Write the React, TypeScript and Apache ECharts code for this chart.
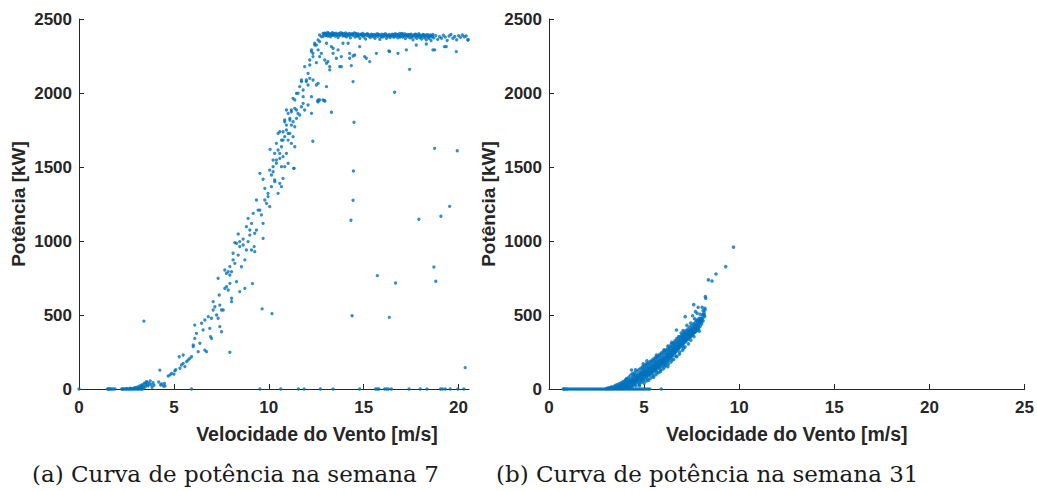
import React, { useEffect, useRef } from "react";
import * as echarts from "echarts";

// ---- Semana 7: potência [kW] vs. velocidade do vento [m/s] ----
const zeros7: [number, number][] = [
  [0, 0], [1.5, 0], [1.55, 0], [1.6, 0], [1.65, 0], [1.72, 0], [1.8, 0], [1.9, 0], [2.25, 0], [2.3, 0],
  [2.35, 0], [2.42, 0], [2.5, 0], [2.58, 0], [2.65, 0], [2.72, 0], [2.8, 0], [2.88, 0], [2.95, 0], [3.05, 0],
  [3.12, 0], [3.2, 0], [3.28, 0], [3.35, 0], [5.93, 0], [9.53, 0], [10.63, 0], [11.56, 0], [11.86, 0],
  [12.72, 0], [13.39, 0], [14.79, 0], [15.63, 0], [15.72, 0], [15.8, 0], [16.1, 0], [16.2, 0], [16.3, 0],
  [16.46, 0], [17.39, 0], [17.98, 0], [18.33, 0], [19.05, 0], [19.15, 0], [19.3, 0], [19.56, 0], [19.96, 0],
  [20.28, 0],
];

const partida7: [number, number][] = [
  [2.5, 3], [2.7, 5], [2.8, 2], [2.9, 8], [3.0, 4], [3.0, 10], [3.1, 14], [3.15, 6], [3.2, 20], [3.25, 12],
  [3.3, 25], [3.3, 8], [3.35, 30], [3.4, 18], [3.4, 5], [3.45, 40], [3.5, 35], [3.5, 15], [3.55, 50],
  [3.6, 28], [3.6, 45], [3.65, 22], [3.7, 38], [3.75, 55], [3.8, 30], [3.85, 12], [3.9, 42], [3.95, 25],
  [4.2, 47], [4.3, 27], [4.35, 35], [4.45, 20], [4.5, 38], [4.53, 20], [4.26, 128],
];

const rampa7: [number, number][] = [
  [4.7, 88], [4.8, 95], [4.88, 106], [5.0, 100], [5.05, 122], [5.1, 130], [5.28, 218], [5.32, 140],
  [5.4, 162], [5.49, 173], [5.49, 230], [5.58, 151], [5.67, 185], [5.75, 196], [5.84, 207], [5.93, 218],
  [6.02, 286], [6.02, 297], [6.1, 342], [6.1, 432], [6.19, 376], [6.28, 252], [6.37, 309], [6.46, 444],
  [6.54, 399], [6.63, 263], [6.63, 466], [6.72, 252], [6.81, 489], [6.89, 410], [6.93, 354], [6.98, 342],
  [6.98, 478], [7.07, 534], [7.07, 590], [7.16, 556], [7.25, 500], [7.33, 478], [7.33, 748], [7.39, 635],
  [7.42, 421], [7.42, 567], [7.51, 387], [7.51, 534], [7.6, 534], [7.68, 680], [7.68, 804], [7.77, 691],
  [7.77, 781], [7.86, 793], [7.86, 669], [7.95, 770], [7.95, 714], [7.95, 827], [8.04, 613], [8.04, 590],
  [8.04, 793], [8.12, 917], [8.12, 872], [8.21, 849], [8.21, 989], [8.3, 725], [8.3, 984], [8.39, 905],
  [8.39, 1047], [8.47, 658], [8.47, 996], [8.47, 962], [8.56, 826], [8.65, 973], [8.65, 1013], [8.74, 680],
  [8.74, 872], [8.82, 939], [8.82, 1097], [8.91, 996], [8.91, 1153], [9.0, 1040], [9.0, 1074], [9.09, 939],
  [9.09, 1119], [9.14, 712], [9.18, 1187], [9.23, 962], [9.26, 928], [9.26, 1052], [9.35, 1277], [9.35, 1074],
  [9.44, 1209], [9.53, 1457], [9.53, 1209], [9.61, 1176], [9.7, 1119], [9.7, 1417], [9.7, 1018], [9.79, 1356],
  [9.79, 1277], [9.88, 1254], [9.96, 1300], [9.96, 1322], [10.05, 1232], [10.05, 1479], [10.07, 1619],
  [10.14, 1367], [10.14, 1446], [10.23, 1468], [10.23, 1547], [10.23, 1502], [10.31, 1412], [10.31, 1592],
  [10.32, 1401], [10.4, 1525], [10.4, 1660], [10.4, 1547], [10.49, 1322], [10.49, 1615], [10.49, 1727],
  [10.58, 1389], [10.58, 1558], [10.58, 1738], [10.58, 1592], [10.67, 1367], [10.67, 1637], [10.67, 1682],
  [10.67, 1502], [10.75, 1423], [10.75, 1570], [10.75, 1738], [10.75, 1682], [10.84, 1502], [10.84, 1705],
  [10.84, 1806], [10.84, 1818], [10.93, 1592], [10.93, 1750], [10.93, 1783], [10.93, 1885], [11.02, 1525],
  [11.02, 1682], [11.02, 1862], [11.02, 1727], [11.11, 1727], [11.11, 1817], [11.11, 1829], [11.19, 1660],
  [11.19, 1783], [11.19, 1873], [11.19, 1885], [11.28, 1705], [11.28, 1806], [11.28, 1964], [11.32, 1491],
  [11.37, 1637], [11.37, 1772], [11.37, 1896], [11.37, 1953], [11.46, 1829], [11.46, 1885], [11.46, 1997],
  [11.54, 1862], [11.54, 1998], [11.63, 1851], [11.63, 2043], [11.72, 1907], [11.72, 2077], [11.72, 2088],
  [11.81, 1930], [11.81, 1975], [11.81, 2020], [11.89, 1885], [11.89, 2178], [11.98, 2077], [11.98, 2088],
  [12.07, 1919], [12.07, 2054], [12.07, 2133], [12.16, 2099], [12.16, 2189], [12.16, 2223], [12.25, 1862],
  [12.25, 1975], [12.25, 2280], [12.25, 2291], [12.33, 2088], [12.33, 2246], [12.33, 2268], [12.42, 2324],
  [12.42, 2336], [12.51, 2054], [12.51, 2205], [12.51, 2324], [12.6, 1941], [12.6, 1953], [12.6, 2065],
  [12.6, 2291], [12.6, 2358], [12.68, 1953], [12.68, 2246], [12.68, 2347], [12.68, 2392], [12.77, 2268],
  [12.77, 2381], [12.86, 1953], [12.86, 2381], [12.86, 2403], [12.95, 1946], [12.95, 2223], [12.95, 2403],
  [13.04, 2043], [13.04, 2201], [13.04, 2336], [13.04, 2392], [13.12, 2212], [13.21, 2156], [13.21, 2178],
];

const patamar7: [number, number][] = [
  [12.9, 2395], [12.95, 2405], [13.0, 2388], [13.02, 2392], [13.05, 2400], [13.1, 2410], [13.12, 2385],
  [13.15, 2392], [13.2, 2402], [13.22, 2398], [13.25, 2380], [13.3, 2398], [13.32, 2390], [13.35, 2408],
  [13.4, 2390], [13.42, 2403], [13.45, 2400], [13.5, 2385], [13.55, 2405], [13.58, 2390], [13.6, 2395],
  [13.65, 2375], [13.7, 2402], [13.72, 2394], [13.75, 2390], [13.8, 2408], [13.85, 2396], [13.88, 2402],
  [13.9, 2385], [13.95, 2400], [14.0, 2392], [14.02, 2385], [14.05, 2406], [14.1, 2380], [14.12, 2396],
  [14.15, 2398], [14.2, 2390], [14.25, 2403], [14.28, 2390], [14.3, 2372], [14.35, 2395], [14.4, 2400],
  [14.42, 2396], [14.45, 2388], [14.5, 2406], [14.55, 2378], [14.58, 2402], [14.6, 2395], [14.65, 2385],
  [14.7, 2400], [14.72, 2385], [14.75, 2392], [14.8, 2370], [14.85, 2398], [14.88, 2394], [14.9, 2388],
  [14.95, 2402], [15.0, 2380], [15.02, 2390], [15.05, 2395], [15.1, 2365], [15.15, 2390], [15.18, 2398],
  [15.2, 2400], [15.25, 2385], [15.3, 2393], [15.32, 2384], [15.35, 2375], [15.4, 2398], [15.45, 2388],
  [15.48, 2394], [15.5, 2380], [15.55, 2395], [15.6, 2370], [15.62, 2386], [15.65, 2390], [15.7, 2400],
  [15.75, 2382], [15.78, 2398], [15.8, 2392], [15.85, 2362], [15.9, 2388], [15.92, 2380], [15.95, 2398],
  [16.0, 2378], [16.05, 2392], [16.08, 2396], [16.1, 2385], [16.15, 2400], [16.2, 2370], [16.22, 2388],
  [16.25, 2390], [16.3, 2382], [16.35, 2396], [16.38, 2386], [16.4, 2375], [16.45, 2388], [16.5, 2398],
  [16.52, 2392], [16.55, 2380], [16.6, 2392], [16.62, 2378], [16.65, 2400], [16.7, 2385], [16.72, 2396],
  [16.75, 2395], [16.8, 2372], [16.82, 2388], [16.85, 2390], [16.9, 2402], [16.92, 2378], [16.95, 2385],
  [17.0, 2395], [17.02, 2402], [17.05, 2378], [17.1, 2390], [17.12, 2384], [17.15, 2400], [17.2, 2368],
  [17.22, 2392], [17.25, 2388], [17.3, 2396], [17.32, 2386], [17.35, 2380], [17.4, 2392], [17.42, 2396],
  [17.45, 2372], [17.5, 2398], [17.52, 2378], [17.55, 2385], [17.6, 2360], [17.62, 2388], [17.65, 2392],
  [17.7, 2380], [17.72, 2398], [17.75, 2395], [17.8, 2370], [17.82, 2384], [17.85, 2388], [17.9, 2400],
  [17.92, 2392], [17.95, 2375], [18.0, 2390], [18.02, 2380], [18.05, 2365], [18.1, 2385], [18.12, 2392],
  [18.15, 2395], [18.2, 2372], [18.22, 2384], [18.25, 2388], [18.3, 2360], [18.32, 2394], [18.35, 2380],
  [18.4, 2392], [18.42, 2378], [18.45, 2370], [18.5, 2385], [18.52, 2392], [18.55, 2355], [18.6, 2380],
  [18.62, 2384], [18.65, 2395], [18.7, 2372], [18.8, 2388], [18.9, 2362], [19.0, 2380], [19.1, 2370],
  [19.2, 2390], [19.3, 2378], [19.4, 2355], [19.5, 2385], [19.6, 2395], [19.7, 2370], [19.8, 2382],
  [19.9, 2360], [20.0, 2388], [20.1, 2376], [20.2, 2392], [20.3, 2380], [20.4, 2385], [20.5, 2360],
];

const abaixoPatamar7: [number, number][] = [
  [13.3, 2313], [13.39, 2268], [13.39, 2302], [13.56, 2235], [13.65, 2291], [13.74, 2178], [13.82, 2178],
  [13.82, 2246], [13.91, 2336], [14.18, 2336], [14.26, 2235], [14.26, 2268], [14.35, 2185], [14.44, 2250],
  [14.44, 2077], [14.53, 2257], [14.79, 2313], [15.05, 2246], [15.14, 2235], [15.32, 2212], [15.67, 2268],
  [16.33, 2284], [16.37, 2280], [16.81, 2268], [17.25, 2291], [17.42, 2160], [17.77, 2324], [18.3, 2331],
  [18.65, 2291], [18.74, 2291], [19.26, 2313], [19.35, 2313], [19.88, 2280], [20.49, 2358],
];

const dispersos7: [number, number][] = [
  [3.42, 459], [7.95, 248], [9.65, 541], [10.17, 509], [12.32, 1674], [11.33, 1491], [13.3, 1870],
  [12.93, 1948], [12.58, 1944], [16.63, 2005], [14.49, 1802], [14.46, 1473], [14.44, 1275], [14.33, 1140],
  [14.39, 495], [15.72, 766], [16.35, 484], [16.68, 716], [17.91, 1147], [18.7, 824], [18.8, 728],
  [18.74, 1626], [19.07, 1167], [19.53, 1234], [19.93, 1610], [20.35, 144],
];

// ---- Semana 31 ----
const zeros31: [number, number][] = [
  [0.75, 0], [0.8, 0], [0.85, 0], [0.93, 0], [1.0, 0], [1.1, 0], [1.2, 0], [1.3, 0], [1.4, 0], [1.5, 0],
  [1.6, 0], [1.7, 0], [1.8, 0], [1.9, 0], [2.0, 0], [2.1, 0], [2.2, 0], [2.3, 0], [2.4, 0], [2.5, 0],
  [2.6, 0], [2.7, 0], [2.8, 0], [2.9, 0], [3.0, 0], [3.1, 0], [3.2, 0], [3.3, 0], [3.4, 0], [3.5, 0],
  [3.6, 0], [3.7, 0], [3.8, 0], [3.9, 0], [4.0, 0], [4.1, 0], [4.2, 0], [4.3, 0], [4.4, 0], [4.5, 0],
  [4.6, 0], [4.7, 0], [4.8, 0], [4.9, 0], [5.0, 0], [5.1, 0], [5.2, 0], [5.3, 0], [5.9, 0],
];

const nuvem31: [number, number][] = [
  [3.0, 2], [3.05, 5], [3.1, 3], [3.15, 8], [3.2, 4], [3.25, 10], [3.3, 6], [3.3, 14], [3.35, 3], [3.4, 9],
  [3.45, 18], [3.5, 6], [3.5, 25], [3.55, 12], [3.6, 30], [3.6, 8], [3.65, 20], [3.7, 15], [3.7, 35],
  [3.75, 4], [3.75, 26], [3.8, 18], [3.8, 42], [3.85, 30], [3.85, 10], [3.9, 22], [3.9, 50], [3.95, 36],
  [3.95, 14], [4.0, 28], [4.0, 55], [4.02, 8], [4.05, 40], [4.08, 70], [4.1, 20], [4.1, 48], [4.12, 33],
  [4.15, 62], [4.18, 15], [4.2, 42], [4.2, 80], [4.22, 55], [4.25, 30], [4.28, 68], [4.3, 48], [4.3, 95],
  [4.32, 20], [4.34, 128], [4.35, 58], [4.38, 78], [4.4, 40], [4.4, 105], [4.42, 65], [4.45, 28], [4.45, 88],
  [4.48, 52], [4.5, 72], [4.5, 110], [4.52, 35], [4.55, 60], [4.55, 95], [4.6, 48], [4.6, 82], [4.62, 120],
  [4.65, 68], [4.68, 100], [4.7, 40], [4.7, 88], [4.72, 130], [4.75, 75], [4.78, 108], [4.8, 55], [4.8, 95],
  [4.82, 140], [4.85, 82], [4.88, 118], [4.9, 65], [4.9, 102], [4.92, 150], [4.95, 90], [4.98, 125],
  [5.0, 72], [5.0, 110], [5.02, 160], [5.05, 98], [5.08, 135], [5.1, 80], [5.1, 118], [5.12, 170],
  [5.15, 105], [5.18, 142], [5.2, 88], [5.2, 125], [5.22, 175], [5.25, 112], [5.28, 150], [5.3, 95],
  [5.3, 135], [5.32, 185], [5.35, 120], [5.38, 158], [5.4, 105], [5.4, 145], [5.42, 195], [5.45, 130],
  [5.48, 168], [5.5, 115], [5.5, 152], [5.52, 205], [5.55, 138], [5.58, 178], [5.6, 125], [5.6, 162],
  [5.62, 215], [5.65, 148], [5.68, 188], [5.7, 135], [5.7, 170], [5.72, 225], [5.75, 158], [5.78, 198],
  [5.8, 142], [5.8, 180], [5.82, 235], [5.85, 165], [5.88, 205], [5.9, 150], [5.9, 190], [5.92, 245],
  [5.95, 175], [5.98, 215], [6.0, 160], [6.0, 198], [6.02, 255], [6.05, 185], [6.08, 225], [6.1, 170],
  [6.1, 208], [6.12, 262], [6.15, 195], [6.18, 235], [6.2, 180], [6.2, 218], [6.22, 270], [6.25, 205],
  [6.28, 248], [6.3, 195], [6.3, 230], [6.32, 285], [6.35, 220], [6.38, 262], [6.4, 210], [6.4, 245],
  [6.42, 300], [6.45, 235], [6.48, 275], [6.5, 225], [6.5, 258], [6.52, 310], [6.55, 250], [6.58, 290],
  [6.6, 240], [6.6, 272], [6.62, 325], [6.65, 265], [6.68, 302], [6.7, 255], [6.7, 288], [6.7, 399],
  [6.72, 340], [6.75, 278], [6.78, 315], [6.8, 270], [6.8, 300], [6.82, 355], [6.85, 292], [6.88, 330],
  [6.9, 285], [6.9, 315], [6.95, 345], [6.98, 300], [7.0, 325], [7.0, 370], [7.02, 290], [7.05, 340],
  [7.08, 310], [7.1, 355], [7.1, 385], [7.12, 325], [7.15, 368], [7.16, 489], [7.18, 340], [7.2, 395],
  [7.22, 355], [7.25, 378], [7.28, 335], [7.3, 405], [7.32, 365], [7.35, 390], [7.38, 350], [7.4, 418],
  [7.42, 372], [7.45, 400], [7.48, 360], [7.5, 425], [7.52, 385], [7.55, 410], [7.58, 375], [7.6, 440],
  [7.61, 570], [7.62, 395], [7.65, 420], [7.68, 385], [7.7, 450], [7.7, 523], [7.72, 405], [7.75, 430],
  [7.75, 466], [7.78, 398], [7.79, 512], [7.8, 460], [7.84, 552], [7.85, 415], [7.88, 440], [7.89, 478],
  [7.9, 470], [7.95, 425], [8.0, 480], [8.01, 455], [8.02, 440], [8.05, 552], [8.08, 500], [8.1, 460],
  [8.15, 515], [8.18, 490], [8.2, 534], [8.2, 545], [8.22, 624], [8.24, 613], [8.38, 737], [8.57, 730],
  [8.78, 777], [9.29, 827], [9.7, 959],
];

// extra readings filling the dense part of the week-31 cloud
const nuvemDensa31: [number, number][] = [
  [3.58, 3], [3.68, 11], [3.78, 7], [3.88, 38], [3.92, 4], [3.98, 20], [4.03, 62], [4.07, 12], [4.13, 26],
  [4.17, 45], [4.23, 9], [4.27, 52], [4.33, 36], [4.37, 16], [4.43, 50], [4.47, 96], [4.53, 47], [4.57, 22],
  [4.63, 58], [4.67, 84], [4.73, 62], [4.77, 33], [4.83, 112], [4.87, 70], [4.93, 84], [4.97, 58],
  [5.03, 92], [5.07, 122], [5.13, 94], [5.17, 68], [5.23, 140], [5.27, 100], [5.33, 112], [5.37, 142],
  [5.43, 118], [5.47, 90], [5.53, 128], [5.57, 160], [5.63, 140], [5.67, 112], [5.73, 150], [5.77, 182],
  [5.83, 155], [5.87, 128], [5.93, 172], [5.97, 200], [6.03, 172], [6.07, 148], [6.13, 188], [6.17, 215],
  [6.23, 192], [6.27, 168], [6.33, 212], [6.37, 240], [6.43, 222], [6.47, 196], [6.53, 240], [6.57, 268],
  [6.63, 248], [6.67, 222], [6.73, 270], [6.77, 295], [6.83, 278], [6.87, 250], [6.93, 298], [6.97, 325],
  [7.03, 305], [7.07, 275], [7.13, 340], [7.17, 318], [7.23, 330], [7.27, 360], [7.33, 345], [7.37, 375],
  [7.43, 352], [7.47, 388], [7.53, 365], [7.57, 400], [7.63, 380], [7.67, 408], [7.73, 392], [7.77, 418],
  [7.83, 425], [7.87, 405], [7.93, 445], [7.97, 460], [8.03, 468], [8.07, 478], [8.12, 505], [8.16, 500],
  [5.15, 190], [5.65, 230], [6.05, 265], [6.45, 315], [6.95, 378], [7.05, 395], [7.45, 445], [7.65, 475],
  [7.95, 505], [8.1, 530], [4.95, 170], [4.55, 130], [6.25, 290], [7.25, 430], [7.55, 495],
  [5.0, 40], [5.25, 60], [5.5, 80], [5.75, 110], [6.0, 135], [6.25, 150], [6.55, 200], [6.85, 235],
  [7.15, 285], [7.45, 330], [4.75, 22], [5.35, 75], [4.86, 46], [5.12, 54], [5.62, 96], [5.86, 118],
  [6.14, 160], [6.41, 182], [6.72, 218], [7.02, 262], [7.33, 305], [7.62, 355], [7.9, 390],
  [4.58, 70], [4.69, 76], [4.79, 84], [4.91, 96], [5.01, 103], [5.11, 112], [5.21, 120], [5.31, 128],
  [5.41, 137], [5.51, 146], [5.61, 152], [5.71, 160], [5.81, 170], [5.91, 178], [6.01, 188], [6.11, 198],
  [6.21, 210], [6.31, 222], [6.41, 232], [6.51, 244], [6.61, 256], [6.71, 265], [6.81, 284], [6.91, 300],
  [7.01, 312], [7.11, 330], [7.21, 342], [7.31, 358], [7.41, 368], [7.51, 378], [7.61, 392], [7.71, 405],
  [7.81, 440], [7.91, 452], [8.01, 470], [4.47, 62], [4.64, 90], [4.84, 78], [5.04, 118], [5.24, 108],
  [5.44, 152], [5.64, 176], [5.84, 192], [6.04, 210], [6.24, 232], [6.44, 262], [6.64, 282], [6.84, 318],
  [7.04, 352], [7.24, 368], [7.44, 395], [7.64, 430], [7.84, 455],
  [4.9, 135], [5.0, 145], [5.1, 155], [5.2, 162], [5.3, 170], [5.4, 180], [5.5, 190], [5.6, 200],
  [5.7, 212], [5.8, 220], [5.9, 230], [6.0, 240], [6.1, 248], [6.2, 255], [6.3, 268], [6.4, 282],
  [6.5, 292], [6.6, 308], [6.7, 322], [6.8, 338], [6.9, 352], [7.0, 360], [7.1, 372], [7.2, 380],
  [7.3, 392],
];

const xTicks7 = [0, 5, 10, 15, 20];
const xTicks31 = [0, 5, 10, 15, 20, 25];

const AXIS = "#262626";
const MARKER = "#0072BD";
const SANS = "Liberation Sans, Arial, Helvetica, sans-serif";
const SERIF = "DejaVu Serif, serif";

function axisBase() {
  return {
    type: "value" as const,
    splitLine: { show: false },
    axisLine: { show: true, onZero: false, lineStyle: { color: AXIS, width: 1 } },
    axisTick: { show: true, inside: true, length: 5, lineStyle: { color: AXIS, width: 1 } },
    axisLabel: {
      color: AXIS,
      fontFamily: SANS,
      fontWeight: "bold" as const,
      fontSize: 17,
      formatter: (v: number) => String(v),
    },
  };
}

const nameStyle = (size: number) => ({
  color: AXIS,
  fontFamily: SANS,
  fontWeight: "bold" as const,
  fontSize: size,
});

export default function App() {
  const ref = useRef<HTMLDivElement>(null);

  useEffect(() => {
    if (!ref.current) return;
    const chart = echarts.init(ref.current, undefined, { renderer: "svg" });
    const base = axisBase();

    chart.setOption({
      animation: false,
      backgroundColor: "#ffffff",
      grid: [
        { left: 79, top: 19, width: 390, height: 370 },
        { left: 549, top: 19, width: 476, height: 370 },
      ],
      xAxis: [
        {
          ...base,
          gridIndex: 0,
          min: 0,
          max: 20.55,
          interval: 5,
          axisTick: { ...base.axisTick, customValues: xTicks7 },
          axisLabel: { ...base.axisLabel, margin: 10, customValues: xTicks7 },
          name: "Velocidade do Vento [m/s]",
          nameLocation: "middle",
          nameGap: 35,
          nameTextStyle: { ...nameStyle(19.5), padding: [0, 0, 0, 86] },
        },
        {
          ...base,
          gridIndex: 1,
          min: 0,
          max: 25,
          interval: 5,
          axisTick: { ...base.axisTick, customValues: xTicks31 },
          axisLabel: { ...base.axisLabel, margin: 10, customValues: xTicks31 },
          name: "Velocidade do Vento [m/s]",
          nameLocation: "middle",
          nameGap: 35,
          nameTextStyle: nameStyle(19.5),
        },
      ],
      yAxis: [0, 1].map((g) => ({
        ...base,
        gridIndex: g,
        min: 0,
        max: 2500,
        interval: 500,
        axisLabel: { ...base.axisLabel, margin: 7 },
        name: "Potência [kW]",
        nameLocation: "middle",
        nameGap: 51,
        nameTextStyle: nameStyle(19),
      })),
      series: [
        {
          type: "scatter",
          xAxisIndex: 0,
          yAxisIndex: 0,
          symbol: "circle",
          symbolSize: 3.3,
          itemStyle: { color: MARKER },
          data: [...zeros7, ...partida7, ...rampa7, ...patamar7, ...abaixoPatamar7, ...dispersos7],
        },
        {
          type: "scatter",
          xAxisIndex: 1,
          yAxisIndex: 1,
          symbol: "circle",
          symbolSize: 3.6,
          itemStyle: { color: MARKER },
          data: [...zeros31, ...nuvem31, ...nuvemDensa31],
        },
      ],
      graphic: [
        {
          type: "text",
          left: 32,
          top: 462,
          style: {
            text: "(a) Curva de potência na semana 7",
            fontFamily: SERIF,
            fontSize: 23,
            fill: "#1a1a1a",
          },
        },
        {
          type: "text",
          left: 496,
          top: 462,
          style: {
            text: "(b) Curva de potência na semana 31",
            fontFamily: SERIF,
            fontSize: 23,
            fill: "#1a1a1a",
          },
        },
      ],
    });

    return () => chart.dispose();
  }, []);

  return (
    <div
      ref={ref}
      style={{ position: "absolute", left: 0, top: 0, width: 1037, height: 491, background: "#fff" }}
    />
  );
}
